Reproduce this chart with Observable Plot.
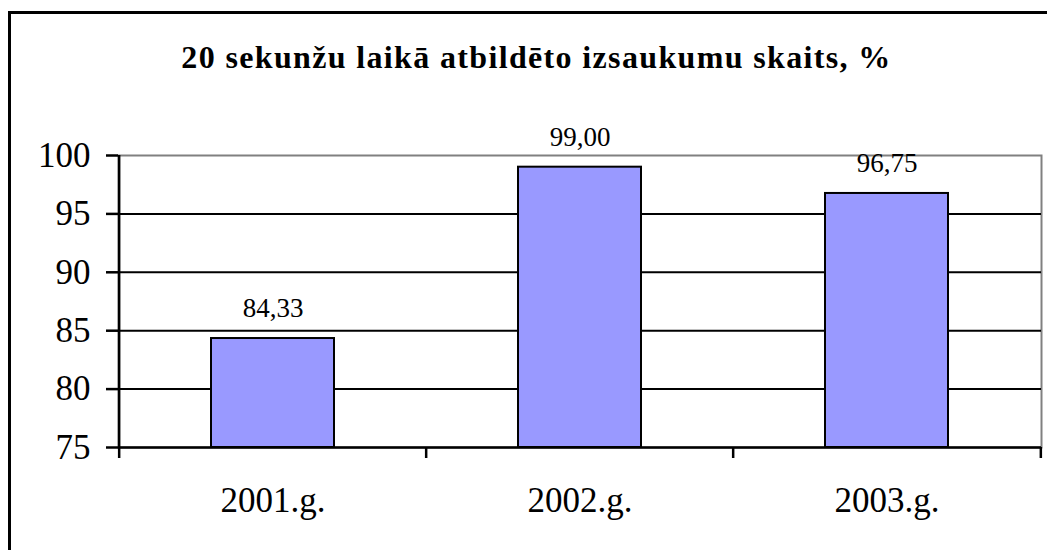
<!DOCTYPE html>
<html>
<head>
<meta charset="utf-8">
<script src="https://cdn.jsdelivr.net/npm/d3@7"></script>
<script src="https://cdn.jsdelivr.net/npm/@observablehq/plot@0.6"></script>
<style>
  html, body { margin: 0; padding: 0; background: #fff; overflow: hidden; width: 1047px; height: 550px; }
  #border { position: absolute; left: 8px; top: 11px; width: 1100px; height: 600px; border: 3px solid #000; box-sizing: border-box; }
  #title { position: absolute; left: 8px; width: 1057px; top: 39px; text-align: center; font-family: "Liberation Serif", "Times New Roman", serif; font-weight: bold; font-size: 32px; letter-spacing: 1.35px; color: #000; }
  #chart { position: absolute; left: 0; top: 0; }
  #chart svg text { font-family: "Liberation Serif", "Times New Roman", serif; }
</style>
</head>
<body>
<div id="border"></div>
<div id="title">20 sekunžu laikā atbildēto izsaukumu skaits, %</div>
<div id="chart"></div>
<script>
const years = ["2001.g.", "2002.g.", "2003.g."];
const values = [84.33, 99.00, 96.75];
const yTicks = [75, 80, 85, 90, 95, 100];
const gridLines = [80, 85, 90, 95];
const valueLabels = ["84,33", "99,00", "96,75"];

const data = years.map((y, i) => ({year: y, value: values[i], label: valueLabels[i]}));

const width = 1047, height = 550;
const marginLeft = 118, marginRight = 6, marginTop = 155, marginBottom = 103;
const step = (width - marginLeft - marginRight) / years.length;
const font = "'Liberation Serif', 'Times New Roman', serif";

const chart = Plot.plot({
  width, height, marginLeft, marginRight, marginTop, marginBottom,
  style: {background: "transparent", fontFamily: font, color: "#000", overflow: "visible"},
  x: {domain: years, paddingInner: 0.6, paddingOuter: 0.3},
  y: {domain: [75, 100]},
  marks: [
    Plot.frame({stroke: "#808080", strokeWidth: 2}),
    Plot.ruleY(gridLines, {stroke: "#000", strokeWidth: 2}),
    Plot.barY(data, {x: "year", y1: 75, y2: "value", fill: "#9999FF", stroke: "#000", strokeWidth: 2}),
    Plot.text(data, {x: "year", y: "value", text: "label", dy: -30, fontSize: 27, fontFamily: font, fill: "#000"}),
    Plot.ruleY([75], {stroke: "#000", strokeWidth: 2.5}),
    Plot.ruleX([years[0]], {dx: -step / 2, stroke: "#000", strokeWidth: 2.5}),
    Plot.ruleX(years, {x: d => d, y1: 75, y2: 75, dx: -step / 2, insetBottom: -11, stroke: "#000", strokeWidth: 2.5}),
    Plot.ruleX([years[years.length - 1]], {y1: 75, y2: 75, dx: step / 2, insetBottom: -11, stroke: "#000", strokeWidth: 2.5}),
    Plot.axisY({ticks: yTicks, tickSize: 12, tickPadding: 16, tickFormat: d => String(d), fontSize: 35, fontFamily: font, stroke: "#000", strokeWidth: 2.5, label: null}),
    Plot.axisX({tickSize: 0, tickPadding: 40, fontSize: 35, fontFamily: font, label: null})
  ]
});
document.getElementById("chart").appendChild(chart);
</script>
</body>
</html>
